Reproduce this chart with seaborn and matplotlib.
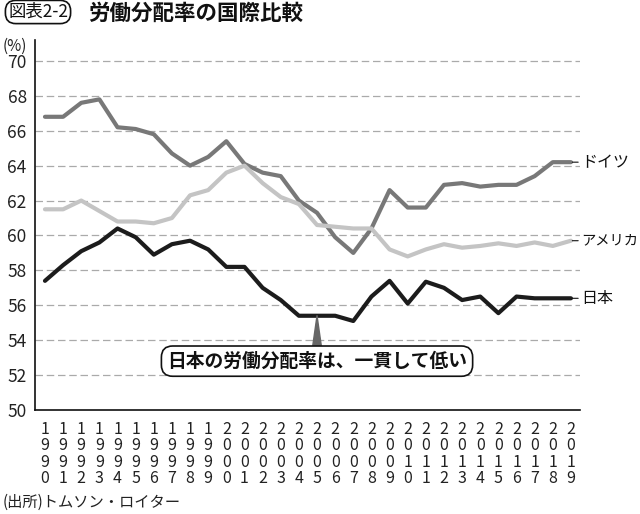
import matplotlib
matplotlib.use("Agg")
import matplotlib.pyplot as plt
import seaborn as sns
import pandas as pd

years = list(range(1990, 2020))
germany = [66.8, 66.8, 67.6, 67.8, 66.2, 66.1, 65.8, 64.7, 64.0, 64.5,
           65.4, 64.1, 63.6, 63.4, 62.0, 61.3, 59.9, 59.0, 60.4, 62.6,
           61.6, 61.6, 62.9, 63.0, 62.8, 62.9, 62.9, 63.4, 64.2, 64.2]
usa = [61.5, 61.5, 62.0, 61.4, 60.8, 60.8, 60.7, 61.0, 62.3, 62.6,
       63.6, 64.0, 63.0, 62.2, 61.8, 60.6, 60.5, 60.4, 60.4, 59.2,
       58.8, 59.2, 59.5, 59.3, 59.4, 59.55, 59.4, 59.6, 59.4, 59.7]
japan = [57.4, 58.3, 59.1, 59.6, 60.4, 59.9, 58.9, 59.5, 59.7, 59.2,
         58.2, 58.2, 57.0, 56.3, 55.4, 55.4, 55.4, 55.1, 56.5, 57.4,
         56.1, 57.35, 57.0, 56.3, 56.5, 55.55, 56.5, 56.4, 56.4, 56.4]
series_names = ["ドイツ", "アメリカ", "日本"]
colors = ["#787878", "#c4c4c4", "#1c1c1c"]
y_ticks = [50, 52, 54, 56, 58, 60, 62, 64, 66, 68, 70]
title = "労働分配率の国際比較"
fig_label = "図表2-2"
source = "(出所)トムソン・ロイター"
callout = "日本の労働分配率は、一貫して低い"
callout_year = 2005

sns.set_theme(style="white")
plt.rcParams['font.family'] = ['Noto Sans CJK JP', 'DejaVu Sans']

df = pd.DataFrame({
    "year": years * 3,
    "value": germany + usa + japan,
    "country": [series_names[0]] * len(years) + [series_names[1]] * len(years) + [series_names[2]] * len(years),
})

fig = plt.figure(figsize=(6.4, 5.14), dpi=100)
ax = fig.add_axes([35/640, 1 - 410/514, (580-35)/640, (410-40)/514])

sns.lineplot(data=df, x="year", y="value", hue="country", hue_order=series_names,
             palette=colors, linewidth=3.0, legend=False, ax=ax, zorder=3)

ax.set_xlim(years[0] - 0.55, years[-1] + 0.5)
ax.set_ylim(50, 71.2)
ax.set_yticks(y_ticks)
ax.set_yticklabels([str(t) for t in y_ticks], fontsize=12.5, color="#222222")
ax.set_xticks(years)
ax.set_xticklabels(["\n".join(str(y)) for y in years], fontsize=11.5,
                   linespacing=0.95, color="#222222")
ax.set_xlabel("")
ax.set_ylabel("")

for t in y_ticks[1:]:
    ax.axhline(t, color="#aaaaaa", lw=0.9, ls=(0, (6, 3)), zorder=1)

for s in ["top", "right"]:
    ax.spines[s].set_visible(False)
for s in ["left", "bottom"]:
    ax.spines[s].set_color("#111111")
    ax.spines[s].set_linewidth(1.2)

ax.tick_params(axis="y", direction="out", length=5, width=1, color="#111111", pad=1)
ax.tick_params(axis="x", direction="out", length=5, width=0.8, color="#666666", pad=3)

# right-hand labels
ends = [germany[-1], usa[-1], japan[-1]]
label_sizes = [11.5, 10.3, 11.5]
for name, v, fs in zip(series_names, ends, label_sizes):
    ax.annotate(name, xy=(years[-1], v), xytext=(years[-1] + 0.58, v),
                fontsize=fs, va="center", ha="left", color="#111111",
                arrowprops=dict(arrowstyle="-", color="#111111", lw=0.8,
                                shrinkA=0, shrinkB=1),
                annotation_clip=False)

# callout
idx = years.index(callout_year)
ax.annotate(callout, xy=(callout_year, japan[idx]), xytext=(callout_year, 52.8),
            fontsize=13.5, fontweight="bold", ha="center", va="center", color="#111111",
            bbox=dict(boxstyle="round,pad=0.3,rounding_size=0.6", fc="white",
                      ec="#111111", lw=1.2),
            arrowprops=dict(arrowstyle="wedge,tail_width=0.45,shrink_factor=0.5",
                            fc="#666666", ec="#666666", shrinkA=0, shrinkB=0),
            zorder=5)

# unit label
fig.text(3/640, 1 - 46/514, "(%)", fontsize=11, ha="left", va="center", color="#222222")

# title
fig.text(8/640, 1 - 12/514, fig_label, fontsize=12.5, ha="left", va="center", color="#111111",
         bbox=dict(boxstyle="round,pad=0.15,rounding_size=0.6", fc="white", ec="#111111", lw=1.2))
fig.text(88/640, 1 - 13/514, title, fontsize=15.5, fontweight="bold", ha="left",
         va="center", color="#111111")

# source
fig.text(3/640, 1 - 502/514, source, fontsize=11, ha="left", va="center", color="#222222")

fig.savefig("out.png", dpi=100, facecolor="white")
